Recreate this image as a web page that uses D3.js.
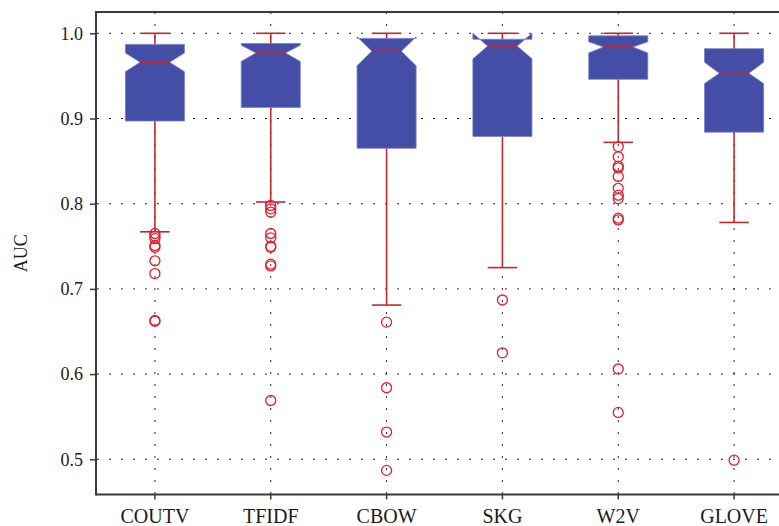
<!DOCTYPE html>
<html>
<head>
<meta charset="utf-8">
<script src="https://cdn.jsdelivr.net/npm/d3@7"></script>
<style>
  html, body { margin: 0; padding: 0; background: #fff; }
  svg { display: block; }
</style>
</head>
<body>
<svg id="chart" width="779" height="526"></svg>
<script>
// Notched box plots of AUC per text representation
const categories = ["COUTV", "TFIDF", "CBOW", "SKG", "W2V", "GLOVE"];
const q1         = [0.897, 0.913, 0.865, 0.879, 0.946, 0.884];
const medians    = [0.966, 0.977, 0.979, 0.985, 0.984, 0.953];
const q3         = [0.987, 0.988, 0.994, 0.993, 0.997, 0.982];
const notchLow   = [0.955, 0.967, 0.962, 0.970, 0.977, 0.941];
const notchHigh  = [0.977, 0.986, 0.996, 1.000, 0.990, 0.966];
const whiskerLow = [0.767, 0.802, 0.681, 0.725, 0.872, 0.778];
const whiskerHigh= [1.000, 1.000, 1.000, 1.000, 1.000, 1.000];
const outliersCOUTV = [0.765, 0.762, 0.759, 0.751, 0.749, 0.733, 0.718, 0.663, 0.662];
const outliersTFIDF = [0.798, 0.794, 0.790, 0.765, 0.760, 0.750, 0.749, 0.729, 0.727, 0.569];
const outliersCBOW  = [0.661, 0.584, 0.532, 0.487];
const outliersSKG   = [0.687, 0.625];
const outliersW2V   = [0.867, 0.855, 0.844, 0.842, 0.832, 0.818, 0.810, 0.806, 0.783, 0.781, 0.606, 0.555];
const outliersGLOVE = [0.499];
const yTicks = [0.5, 0.6, 0.7, 0.8, 0.9, 1.0];
const yLabel = "AUC";

const outliers = [outliersCOUTV, outliersTFIDF, outliersCBOW, outliersSKG, outliersW2V, outliersGLOVE];

const svg = d3.select("#chart");
const plot = { left: 96, top: 12, right: 792, bottom: 494.5 };

const x = d3.scaleBand().domain(categories).range([97, 792]).paddingInner(0).paddingOuter(0);
const y = d3.scaleLinear().domain([0.5, 1.0]).range([459.3, 33.3]);

const cx = c => x(c) + x.bandwidth() / 2;
const boxW = x.bandwidth() * 0.51;
const capW = boxW / 2;
const notchInset = boxW / 4;

const gridColor = "#2a2a2a";
const frameColor = "#3a3a3a";
const whiskerColor = "#bf2a2e";
const medianColor = "#c8242b";
const outlierColor = "#e0202f";
const boxFill = "#444ea6";

// dotted grid
const grid = svg.append("g");
grid.selectAll("line.h").data(yTicks).join("line")
  .attr("x1", plot.left).attr("x2", plot.right)
  .attr("y1", d => y(d)).attr("y2", d => y(d))
  .attr("stroke", gridColor).attr("stroke-width", 1)
  .attr("stroke-dasharray", "2,10").attr("stroke-dashoffset", 11);
grid.selectAll("line.v").data(categories).join("line")
  .attr("x1", d => cx(d)).attr("x2", d => cx(d))
  .attr("y1", plot.top).attr("y2", plot.bottom)
  .attr("stroke", gridColor).attr("stroke-width", 1)
  .attr("stroke-dasharray", "2,10").attr("stroke-dashoffset", 0);

const rows = categories.map((c, i) => ({
  c, q1: q1[i], med: medians[i], q3: q3[i], nlo: notchLow[i], nhi: notchHigh[i],
  wlo: whiskerLow[i], whi: whiskerHigh[i], out: outliers[i]
}));

const g = svg.append("g");

// whiskers
g.selectAll("line.wl").data(rows).join("line")
  .attr("x1", d => cx(d.c)).attr("x2", d => cx(d.c))
  .attr("y1", d => y(d.q1)).attr("y2", d => y(d.wlo))
  .attr("stroke", whiskerColor).attr("stroke-width", 1.6);
g.selectAll("line.wh").data(rows).join("line")
  .attr("x1", d => cx(d.c)).attr("x2", d => cx(d.c))
  .attr("y1", d => y(d.q3)).attr("y2", d => y(d.whi))
  .attr("stroke", whiskerColor).attr("stroke-width", 1.6);
// caps
g.selectAll("line.cl").data(rows).join("line")
  .attr("x1", d => cx(d.c) - capW / 2).attr("x2", d => cx(d.c) + capW / 2)
  .attr("y1", d => y(d.wlo)).attr("y2", d => y(d.wlo))
  .attr("stroke", whiskerColor).attr("stroke-width", 1.6);
g.selectAll("line.ch").data(rows).join("line")
  .attr("x1", d => cx(d.c) - capW / 2).attr("x2", d => cx(d.c) + capW / 2)
  .attr("y1", d => y(d.whi)).attr("y2", d => y(d.whi))
  .attr("stroke", whiskerColor).attr("stroke-width", 1.6);

// notched boxes
g.selectAll("path.box").data(rows).join("path")
  .attr("d", d => {
    const L = cx(d.c) - boxW / 2, R = cx(d.c) + boxW / 2;
    const pts = [
      [L, y(d.q1)], [L, y(d.nlo)], [L + notchInset, y(d.med)], [L, y(d.nhi)], [L, y(d.q3)],
      [R, y(d.q3)], [R, y(d.nhi)], [R - notchInset, y(d.med)], [R, y(d.nlo)], [R, y(d.q1)]
    ];
    return d3.line()(pts) + "Z";
  })
  .attr("fill", boxFill).attr("stroke", "#7880c4").attr("stroke-width", 0.8);

// medians
g.selectAll("line.med").data(rows).join("line")
  .attr("x1", d => cx(d.c) - boxW / 2 + notchInset).attr("x2", d => cx(d.c) + boxW / 2 - notchInset)
  .attr("y1", d => y(d.med)).attr("y2", d => y(d.med))
  .attr("stroke", medianColor).attr("stroke-width", 1.6);

// outliers
const outPts = rows.flatMap(d => d.out.map(v => ({ c: d.c, v })));
g.selectAll("circle.out").data(outPts).join("circle")
  .attr("cx", d => cx(d.c)).attr("cy", d => y(d.v)).attr("r", 5)
  .attr("fill", "none").attr("stroke", outlierColor).attr("stroke-width", 1.3);

// frame
const frame = svg.append("g").attr("stroke", frameColor).attr("stroke-width", 2);
frame.append("line").attr("x1", plot.left).attr("x2", plot.right).attr("y1", plot.top).attr("y2", plot.top);
frame.append("line").attr("x1", plot.left).attr("x2", plot.right).attr("y1", plot.bottom).attr("y2", plot.bottom);
frame.append("line").attr("x1", plot.left).attr("x2", plot.left).attr("y1", plot.top - 1).attr("y2", plot.bottom + 1);

const fontFamily = "'Liberation Serif', 'DejaVu Serif', serif";

// y axis
const yAxis = svg.append("g").attr("transform", `translate(${plot.left},0)`)
  .call(d3.axisLeft(y).tickValues(yTicks).tickFormat(d3.format(".1f")).tickSize(6).tickPadding(7));
yAxis.select(".domain").remove();
yAxis.selectAll(".tick line").attr("stroke", frameColor).attr("stroke-width", 1.5);
yAxis.selectAll(".tick text").attr("font-family", fontFamily).attr("font-size", 18).attr("fill", "#1a1a1a");

// x axis
const xAxis = svg.append("g").attr("transform", `translate(0,${plot.bottom})`)
  .call(d3.axisBottom(x).tickSize(5).tickPadding(9));
xAxis.select(".domain").remove();
xAxis.selectAll(".tick line").attr("stroke", frameColor).attr("stroke-width", 1.5);
xAxis.selectAll(".tick text").attr("font-family", fontFamily).attr("font-size", 20).attr("fill", "#1a1a1a");

// y label
svg.append("text")
  .attr("transform", `translate(27,${(plot.top + plot.bottom) / 2}) rotate(-90)`)
  .attr("text-anchor", "middle")
  .attr("font-family", fontFamily).attr("font-size", 18).attr("fill", "#1a1a1a")
  .text(yLabel);
</script>
</body>
</html>
